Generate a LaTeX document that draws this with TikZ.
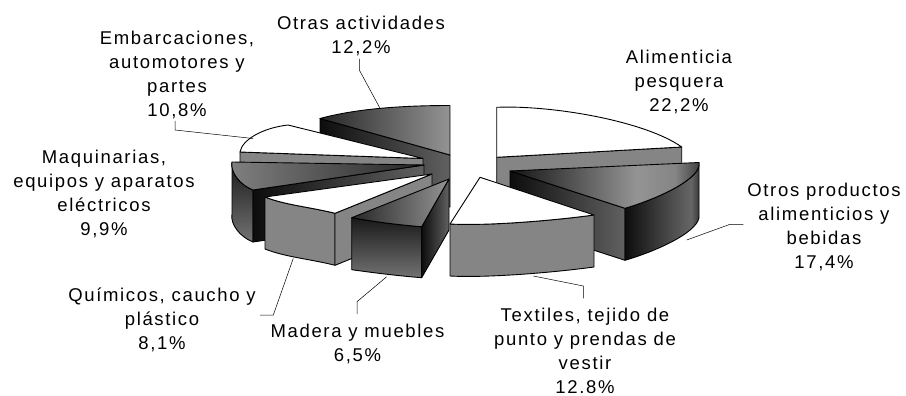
\documentclass[tikz,border=0pt]{standalone}
\usepackage{fontspec}
\setmainfont{Liberation Sans}[LetterSpace=9]
\pgfdeclarehorizontalshading{metalH}{100bp}{color(0bp)=(black!92); color(25bp)=(black!92); color(58bp)=(black!42); color(68bp)=(black!48); color(75bp)=(black!78); color(100bp)=(black!78)}
\pgfdeclarehorizontalshading{metalF}{100bp}{color(0bp)=(black!95); color(25bp)=(black!95); color(55bp)=(black!70); color(68bp)=(black!60); color(75bp)=(black!85); color(100bp)=(black!85)}
\begin{document}
\begin{tikzpicture}[x=1pt,y=-1pt,line join=round,
  edge/.style={draw=black,line width=0.9pt},
  wtop/.style={edge,fill=white},
  gside/.style={edge,fill=black!48},
  dtop/.style={edge,left color=black!85,right color=black!42},
  dtopr/.style={edge,left color=black!50,right color=black!85},
  mtop/.style={edge,shading=metalH},
  mfront/.style={edge,shading=metalF},
  dside/.style={edge,left color=black!95,right color=black!62},
  dfront/.style={edge,top color=black!90,bottom color=black!55},
  lbl/.style={font=\fontsize{18.5}{24}\selectfont,align=center,inner sep=0pt,anchor=north},
  leader/.style={draw=black,line width=0.5pt}]
\useasboundingbox (0,0) rectangle (906,396);

% ---- Otras actividades (dark, back left)
\path[dside] (320,118.5) -- (450,155) -- (450,207) -- (320,170.5) -- cycle;
\path[dtop] (450,155) -- (320,118.5) .. controls (355,109) and (400,105.5) .. (450,105.5) -- cycle;

% ---- Alimenticia pesquera (white, back right)
\path[gside] (496.7,157.3) -- (681.7,147) -- (681.7,199) -- (496.7,209.3) -- cycle;
\path[wtop] (496.7,157.3) -- (496.7,107.3) .. controls (552,105) and (645,121) .. (681.7,147) -- cycle;

% ---- Embarcaciones (white, left)
\path[gside] (240,152) -- (423,158.5) -- (423,210.5) -- (240,204) -- cycle;
\path[wtop] (423,158.5) -- (288,125) .. controls (262,128) and (242,140) .. (240,152) -- cycle;

% ---- Otros productos (dark, right)
\path[dside] (510,171) -- (625,208.3) -- (625,260.3) -- (510,223) -- cycle;
\path[mfront] (625,208.3) .. controls (660,198) and (702,178) .. (699,162.5) -- (699,214.5) .. controls (702,230) and (660,250) .. (625,260.3) -- cycle;
\path[mtop] (510,171) -- (699,162.5) .. controls (702,178) and (660,198) .. (625,208.3) -- cycle;

% ---- Maquinarias (dark, left front)
\path[dfront] (232,162) .. controls (230,172) and (240,185) .. (253,190) -- (253,242) .. controls (240,237) and (230,224) .. (232,214) -- cycle;
\path[dside] (253,190) -- (424,165) -- (424,217) -- (253,242) -- cycle;
\path[dtopr] (424,165) -- (232,162) .. controls (230,172) and (240,185) .. (253,190) -- cycle;

% ---- Textiles (white, front right)
\path[gside] (450,224) .. controls (485,226) and (550,221) .. (594,215) -- (594,267) .. controls (550,273) and (485,278) .. (450,276) -- cycle;
\path[wtop] (480,177.3) -- (450,224) .. controls (485,226) and (550,221) .. (594,215) -- cycle;

% ---- Quimicos (white, front left)
\path[gside] (265,197) .. controls (285,205) and (310,207) .. (335,213.3) -- (335,265.3) .. controls (310,259) and (285,257) .. (265,249) -- cycle;
\path[gside] (335,213.3) -- (432,174) -- (432,226) -- (335,265.3) -- cycle;
\path[wtop] (432,174) -- (265,197) .. controls (285,205) and (310,207) .. (335,213.3) -- cycle;

% ---- Madera (dark, front)
\path[dfront] (351.7,217.7) .. controls (375,222) and (400,225) .. (421.7,226.7) -- (421.7,277.7) .. controls (400,276) and (375,273) .. (351.7,269.7) -- cycle;
\path[dside] (421.7,226.7) -- (449,179) -- (449,230) -- (421.7,277.7) -- cycle;
\path[dtop] (449,179) -- (351.7,217.7) .. controls (375,222) and (400,225) .. (421.7,226.7) -- cycle;

% ---- labels
\node[lbl] (lOtras) at (361,15) {\rule{0pt}{14.5pt}Otras actividades\\12,2\%};
\node[lbl] (lEmb) at (177,29.5) {\rule{0pt}{14.5pt}Embarcaciones,\\automotores y\\partes\\10,8\%};
\node[lbl] (lAli) at (679,48.5) {\rule{0pt}{14.5pt}Alimenticia\\pesquera\\22,2\%};
\node[lbl] (lMaq) at (104,148.5) {\rule{0pt}{14.5pt}Maquinarias,\\equipos y aparatos\\eléctricos\\9,9\%};
\node[lbl] (lQui) at (162,286.5) {\rule{0pt}{14.5pt}Químicos, caucho y\\plástico\\8,1\%};
\node[lbl] (lMad) at (357.5,323) {\rule{0pt}{14.5pt}Madera y muebles\\6,5\%};
\node[lbl] (lTex) at (585,307) {\rule{0pt}{14.5pt}Textiles, tejido de\\punto y prendas de\\vestir\\12.8\%};
\node[lbl] (lOtr) at (824,181.5) {\rule{0pt}{14.5pt}Otros productos\\alimenticios y\\bebidas\\17,4\%};

% ---- leader lines
\coordinate (oA) at (359.3,59);   \coordinate (oB) at (359.3,70);   \coordinate (oC) at (380,108.3);
\coordinate (eA) at (175,121);    \coordinate (eB) at (175,130);    \coordinate (eC) at (253,138.5);
\coordinate (qA) at (260,315);    \coordinate (qB) at (273.3,315);  \coordinate (qC) at (293.3,258.3);
\coordinate (mA) at (357,314);    \coordinate (mB) at (357,301.7);  \coordinate (mC) at (386.7,276.7);
\coordinate (tA) at (583.3,298.3);\coordinate (tB) at (583.3,286);  \coordinate (tC) at (533.3,276);
\coordinate (pA) at (743.3,224.3);\coordinate (pB) at (730,224.3);  \coordinate (pC) at (686.7,240);
\draw[leader] (oA) -- (oB) -- (oC);
\draw[leader] (eA) -- (eB) -- (eC);
\draw[leader] (qA) -- (qB) -- (qC);
\draw[leader] (mA) -- (mB) -- (mC);
\draw[leader] (tA) -- (tB) -- (tC);
\draw[leader] (pA) -- (pB) -- (pC);
\end{tikzpicture}
\end{document}
